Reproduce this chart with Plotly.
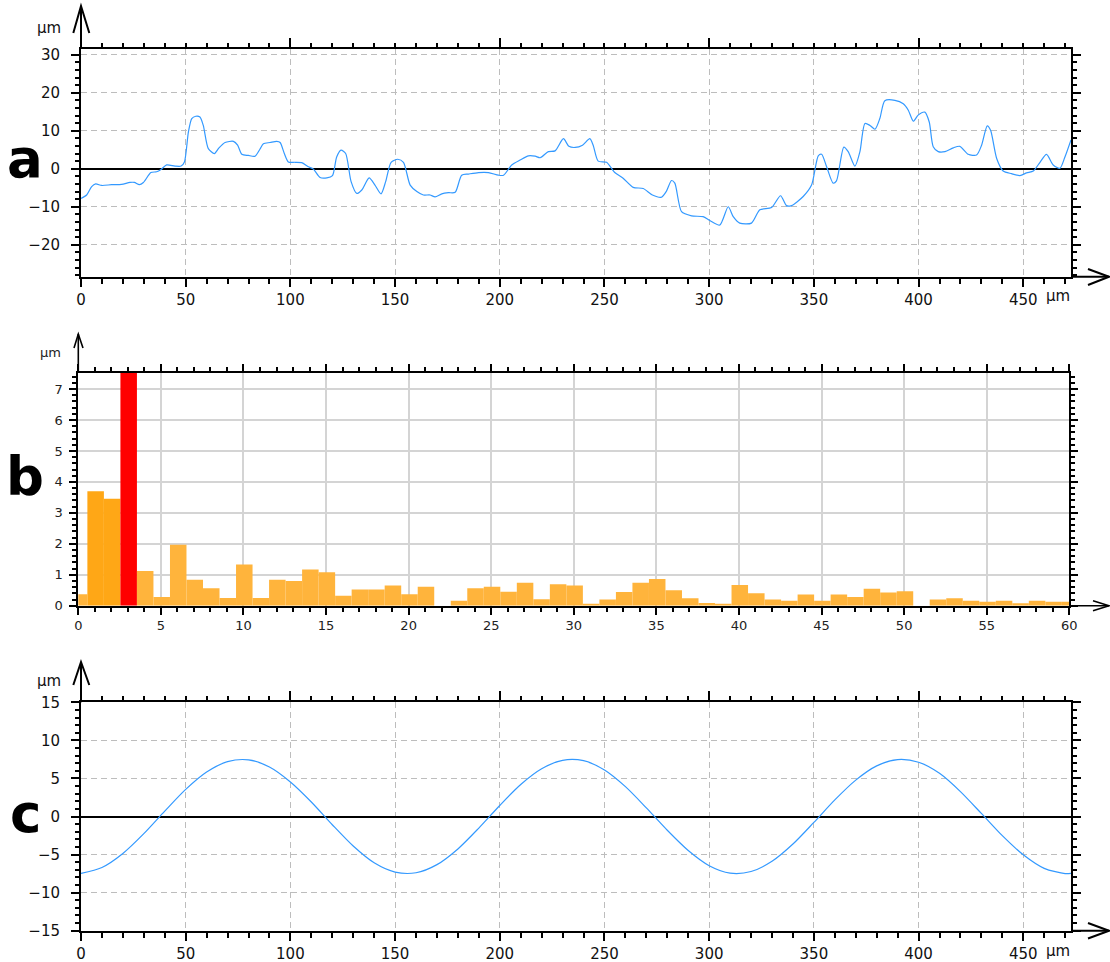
import plotly.graph_objects as go

# ---------------- (a) measured roughness profile, µm ----------------
profile_x = [
    0, 2.7, 5.1, 7.0, 9.9, 14.6, 19.4, 23.4, 25.5, 27.9,
    29.8, 33.4, 36.1, 38.2, 40.9, 44.9, 47.8, 49.4, 51.3, 52.9,
    54.8, 56.8, 58.4, 60.8, 63.7, 65.9, 68.8, 72.8, 74.8, 76.8,
    79.9, 83.1, 85.5, 87.1, 90.3, 93.5, 95.1, 97.1, 99.0, 102.2,
    105.4, 108.6, 111.0, 114.2, 117.4, 120.1, 122.1, 124.2, 126.4, 129.0,
    131.7, 134.1, 137.6, 140.4, 143.3, 145.5, 148.1, 151.3, 154.0, 157.2,
    160.4, 163.5, 166.7, 169.1, 172.3, 175.5, 178.7, 181.8, 185.0, 189.8,
    194.6, 199.4, 201.8, 205.7, 209.7, 213.7, 216.9, 219.3, 223.2, 226.4,
    230.4, 233.0, 236.0, 239.5, 243.0, 244.6, 247.0, 251.0, 254.9, 258.9,
    263.7, 268.5, 272.9, 277.2, 279.6, 282.0, 283.6, 286.8, 291.6, 297.1,
    300.3, 305.1, 309.1, 311.5, 314.6, 320.2, 324.2, 329.8, 334.1, 336.9,
    339.3, 344.9, 348.9, 352.1, 353.7, 356.1, 359.2, 360.8, 364.3, 366.4,
    369.6, 372.0, 374.4, 376.8, 379.2, 381.5, 383.9, 388.7, 392.7, 395.1,
    397.5, 399.8, 403.0, 405.1, 407.0, 409.4, 412.6, 416.6, 419.7, 423.7,
    427.7, 430.1, 432.8, 434.4, 437.3, 440.4, 444.4, 448.4, 451.6, 454.8,
    458.0, 461.1, 464.3, 467.5, 469.9, 472.8,
]
profile_y = [
    -7.8, -6.9, -4.7, -4.0, -4.4, -4.2, -4.1, -3.6, -3.6, -4.2,
    -3.6, -1.0, -0.8, -0.2, 1.0, 0.7, 0.7, 1.8, 9.7, 13.2,
    13.8, 13.6, 11.4, 5.3, 4.0, 5.5, 6.9, 7.2, 6.2, 3.8,
    3.5, 3.3, 5.2, 6.6, 6.9, 7.2, 6.9, 4.0, 1.8, 1.7,
    1.6, 0.5, -0.1, -2.3, -2.4, -1.8, 3.1, 4.9, 4.0, -3.4,
    -6.5, -5.6, -2.4, -4.3, -6.6, -3.4, 1.7, 2.5, 1.7, -4.3,
    -6.0, -6.9, -6.9, -7.4, -6.6, -6.3, -6.2, -1.7, -1.4, -1.0,
    -1.0, -1.7, -1.7, 1.0, 2.3, 3.4, 3.3, 2.9, 4.5, 4.7,
    7.9, 5.9, 5.6, 6.2, 7.9, 6.2, 2.0, 1.7, -1.0, -2.5,
    -4.9, -5.2, -6.9, -7.5, -5.9, -3.1, -3.8, -11.3, -12.4, -12.6,
    -13.6, -14.8, -10.0, -12.6, -14.3, -14.3, -10.8, -10.2, -7.1, -9.7,
    -9.7, -7.3, -4.3, 3.4, 3.8, 0.5, -3.8, -3.2, 5.7, 4.5,
    0.7, 4.5, 11.9, 11.4, 10.4, 13.2, 17.9, 18.0, 17.1, 15.4,
    12.5, 14.1, 14.9, 12.3, 5.8, 4.5, 4.5, 5.5, 5.9, 3.8,
    3.6, 6.2, 11.3, 10.1, 2.7, -0.6, -1.3, -1.8, -1.1, -0.6,
    1.7, 3.8, 1.0, 0.1, 3.1, 7.6,
]

# ---------------- (b) harmonic amplitudes, µm ----------------
harmonic_amp = [
    0.37, 3.70, 3.46, 7.58, 1.12, 0.28, 1.97, 0.84, 0.56, 0.25,
    1.33, 0.25, 0.84, 0.80, 1.17, 1.08, 0.32, 0.52, 0.52, 0.65,
    0.37, 0.61, 0.00, 0.16, 0.56, 0.61, 0.45, 0.74, 0.21, 0.69,
    0.65, 0.04, 0.20, 0.44, 0.74, 0.86, 0.50, 0.24, 0.09, 0.04,
    0.67, 0.40, 0.20, 0.16, 0.36, 0.16, 0.36, 0.28, 0.55, 0.43,
    0.47, 0.00, 0.20, 0.24, 0.16, 0.13, 0.16, 0.08, 0.16, 0.13,
    0.13,
]
harmonic_n = list(range(len(harmonic_amp)))

# ---------------- (c) dominant waviness component, µm ----------------
wave_x = [
    0, 10, 20, 30, 40, 50, 60, 70, 80, 90,
    100, 110, 120, 130, 140, 150, 160, 170, 180, 190,
    200, 210, 220, 230, 240, 250, 260, 270, 280, 290,
    300, 310, 320, 330, 340, 350, 360, 370, 380, 390,
    400, 410, 420, 430, 440, 450, 460, 470, 472.8,
]
wave_y = [
    -7.48, -6.69, -4.85, -2.25, 0.71, 3.56, 5.84, 7.21, 7.44, 6.50,
    4.54, 1.91, -1.08, -3.88, -6.08, -7.30, -7.39, -6.32, -4.26, -1.52,
    1.45, 4.20, 6.27, 7.38, 7.33, 6.11, 3.92, 1.13, -1.81, -4.47,
    -6.46, -7.44, -7.23, -5.89, -3.62, -0.78, 2.18, 4.78, 6.65, 7.48,
    7.13, 5.67, 3.27, 0.40, -2.52, -5.03, -6.81, -7.50, -7.47,
]

X_MAX = 472.8

W, H = 1110, 962


def px(x):
    return x / W


def py(y):
    return 1 - y / H


FONT = "DejaVu Sans"
tick_font = dict(family=FONT, size=15, color="#111111")
small_font = dict(family=FONT, size=13, color="#222222")
DASH = "6px,4px"
GRID = "#bdbdbd"
LINE_BLUE = "#3399ff"

peak = max(harmonic_n, key=lambda i: harmonic_amp[i])
bar_colors = []
for i in harmonic_n:
    if i == peak:
        bar_colors.append("#ff0000")
    elif 0 < i < peak:
        bar_colors.append("#ffa716")
    else:
        bar_colors.append("#ffb43c")

fig = go.Figure()

fig.add_trace(go.Scatter(
    x=profile_x, y=profile_y, mode="lines", xaxis="x", yaxis="y",
    line=dict(color=LINE_BLUE, width=1.2, shape="spline", smoothing=0.7),
    hoverinfo="skip"))

fig.add_trace(go.Bar(
    x=harmonic_n, y=harmonic_amp, width=1, offset=-0.45, xaxis="x2", yaxis="y2",
    marker=dict(color=bar_colors, line=dict(width=0)), hoverinfo="skip"))

fig.add_trace(go.Scatter(
    x=wave_x, y=wave_y, mode="lines", xaxis="x3", yaxis="y3",
    line=dict(color=LINE_BLUE, width=1.2, shape="spline", smoothing=0.8),
    hoverinfo="skip"))

# carriers for the top tick rows of panels a and c
fig.add_trace(go.Scatter(x=[], y=[], xaxis="x4", yaxis="y", hoverinfo="skip"))
fig.add_trace(go.Scatter(x=[], y=[], xaxis="x6", yaxis="y3", hoverinfo="skip"))


def minor(dtick, length):
    return dict(dtick=dtick, ticklen=length, tickwidth=1.5, tickcolor="black",
                ticks="outside", showgrid=False)


def profile_xaxis(dom, anchor):
    return dict(domain=dom, range=[0, X_MAX], anchor=anchor, automargin=False,
                showline=True, linecolor="black", linewidth=2, mirror=True,
                ticks="outside", ticklen=8, tickwidth=1.5, tickcolor="black",
                tick0=0, dtick=50, minor=minor(10, 5),
                showgrid=True, gridcolor=GRID, gridwidth=1.4, griddash=DASH,
                zeroline=False, tickfont=tick_font, ticklabelstandoff=0,
                fixedrange=True)


def top_xaxis(over, anchor):
    return dict(overlaying=over, anchor=anchor, side="top", range=[0, X_MAX],
                automargin=False,
                showline=True, linecolor="black", linewidth=2,
                ticks="outside", ticklen=9, tickwidth=1.5, tickcolor="black",
                tick0=0, dtick=100, minor=minor(10, 4),
                showticklabels=False, showgrid=False, zeroline=False,
                fixedrange=True)


def profile_yaxis(dom, rng, dtick, mdtick, anchor):
    return dict(domain=dom, range=rng, anchor=anchor, automargin=False,
                showline=True, linecolor="black", linewidth=2, mirror="ticks",
                ticks="outside", ticklen=8, tickwidth=1.5, tickcolor="black",
                tick0=0, dtick=dtick, minor=minor(mdtick, 4),
                showgrid=True, gridcolor=GRID, gridwidth=1.4, griddash=DASH,
                zeroline=True, zerolinecolor="black", zerolinewidth=2,
                tickfont=tick_font, ticklabelstandoff=8, fixedrange=True)


fig.update_layout(
    template="none",
    width=W, height=H, margin=dict(l=0, r=0, t=0, b=0, pad=0, autoexpand=False),
    paper_bgcolor="white", plot_bgcolor="white", showlegend=False,
    xaxis=profile_xaxis([px(81), px(1071)], "y"),
    yaxis=profile_yaxis([py(276.7), py(49)], [-28.4, 31.5], 10, 2, "x"),
    xaxis4=top_xaxis("x", "y"),
    xaxis2=dict(domain=[px(78.3), px(1069.3)], range=[0, 60], anchor="y2",
                automargin=False,
                showline=True, linecolor="black", linewidth=2, mirror="ticks",
                ticks="outside", ticklen=7, tickwidth=1.5, tickcolor="black",
                tick0=0, dtick=5, minor=minor(1, 4),
                showgrid=True, gridcolor="#d4d4d4", gridwidth=1.6,
                zeroline=False, tickfont=small_font, ticklabelstandoff=0,
                fixedrange=True),
    yaxis2=dict(domain=[py(605.7), py(372.7)], range=[0, 7.53], anchor="x2",
                automargin=False,
                showline=True, linecolor="black", linewidth=2, mirror="ticks",
                ticks="outside", ticklen=7, tickwidth=1.5, tickcolor="black",
                tick0=0, dtick=1, minor=minor(0.2, 4),
                showgrid=True, gridcolor="#d4d4d4", gridwidth=1.6,
                zeroline=False, tickfont=small_font, ticklabelstandoff=4,
                fixedrange=True),
    xaxis3=profile_xaxis([px(81), px(1071)], "y3"),
    yaxis3=profile_yaxis([py(930.7), py(702.3)], [-15, 15], 5, 1, "x3"),
    xaxis6=top_xaxis("x3", "y3"),
)

# axis arrows (open chevrons) extending the left and bottom axes
arrows = [
    # (axis end, tip, arm1, arm2, width)
    ((81, 49), (81, 6), (73.3, 33), (89.3, 33), 2),
    ((1071, 276.7), (1109, 276.7), (1088, 269), (1088, 285), 2),
    ((78.3, 372.7), (78.3, 334), (74, 348), (83, 348), 1.6),
    ((1069.3, 605.7), (1109, 605.7), (1093, 600.7), (1093, 610.7), 1.6),
    ((81, 702.3), (81, 662), (73.3, 685), (89.3, 685), 2),
    ((1071, 930.7), (1109, 930.7), (1088, 923), (1088, 938.5), 2),
]
shapes = []
for start, tip, a1, a2, w in arrows:
    shapes.append(dict(type="line", xref="paper", yref="paper",
                       x0=px(start[0]), y0=py(start[1]), x1=px(tip[0]), y1=py(tip[1]),
                       line=dict(color="black", width=w)))
    path = "M {},{} L {},{} L {},{}".format(px(a1[0]), py(a1[1]), px(tip[0]), py(tip[1]),
                                             px(a2[0]), py(a2[1]))
    shapes.append(dict(type="path", xref="paper", yref="paper", path=path,
                       line=dict(color="black", width=w)))
fig.update_layout(shapes=shapes)

annotations = []
# panel letters
for letter, yc in (("a", 158), ("b", 476), ("c", 813)):
    annotations.append(dict(text=letter, xref="paper", yref="paper",
                            x=px(25), y=py(yc), xanchor="center", yanchor="middle",
                            showarrow=False,
                            font=dict(family=FONT, size=53, color="black", weight="bold")))
# unit labels above the value axes
for yc, fnt in ((28, dict(family=FONT, size=15, color="#111111")),
                (352, dict(family=FONT, size=13, color="#222222")),
                (681, dict(family=FONT, size=15, color="#111111"))):
    annotations.append(dict(text="µm", xref="paper", yref="paper",
                            x=px(63), y=py(yc), xanchor="right", yanchor="middle",
                            showarrow=False, font=fnt))
# unit after the last position label
for yc in (296, 951):
    annotations.append(dict(text="µm", xref="paper", yref="paper",
                            x=px(1044), y=py(yc), xanchor="left", yanchor="middle",
                            showarrow=False, font=tick_font))
fig.update_layout(annotations=annotations)

fig.write_html("out.html")
